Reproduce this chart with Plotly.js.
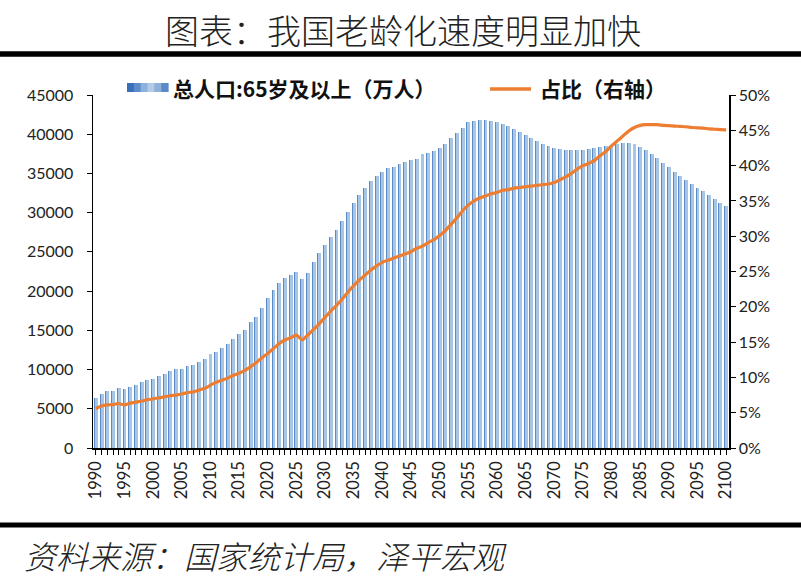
<!DOCTYPE html>
<html>
<head>
<meta charset="utf-8">
<script src="https://cdn.plot.ly/plotly-3.0.1.min.js"></script>
<style>
  html, body { margin: 0; padding: 0; background: #fff; }
  #chart { width: 801px; height: 582px; }
</style>
</head>
<body>
<div id="chart"></div>
<script>
// 65岁及以上人口（万人），1990-2100
const pop65 = [
  6370, 6920, 7260, 7310, 7650, 7520, 7830, 8050, 8410, 8690,
  8810, 9140, 9420, 9800, 10080, 10110, 10460, 10620, 11020, 11350,
  11960, 12300, 12810, 13280, 13930, 14540, 15070, 16000, 16760, 17860,
  19100, 20150, 21010, 21650, 22030, 22400, 21560, 22330, 23770, 24830,
  25890, 26950, 27800, 28990, 30090, 31240, 32220, 33150, 34040, 34720,
  35190, 35660, 35870, 36170, 36460, 36720, 36880, 37440, 37650, 37900,
  38200, 38730, 39480, 40120, 40750, 41520, 41720, 41770, 41770, 41680,
  41520, 41300, 41010, 40660, 40240, 39900, 39480, 39180, 38720, 38460,
  38280, 38080, 37990, 37990, 37990, 37990, 38080, 38280, 38370, 38500,
  38630, 38790, 38920, 38840, 38720, 38410, 37990, 37480, 36930, 36370,
  35780, 35230, 34720, 34210, 33700, 33190, 32730, 32220, 31710, 31280,
  30860
];

// 占比（%）
const share = [
  5.6, 5.95, 6.1, 6.15, 6.3, 6.1, 6.35, 6.5, 6.65, 6.85,
  6.95, 7.1, 7.25, 7.4, 7.5, 7.65, 7.85, 7.95, 8.2, 8.45,
  8.9, 9.3, 9.6, 9.9, 10.3, 10.6, 11.0, 11.5, 12.1, 12.8,
  13.4, 14.1, 14.8, 15.3, 15.6, 16.0, 15.3, 16.0, 16.8, 17.6,
  18.5, 19.4, 20.2, 21.1, 22.1, 23.0, 23.8, 24.5, 25.2, 25.8,
  26.3, 26.6, 26.9, 27.2, 27.5, 27.8, 28.3, 28.6, 29.1, 29.5,
  30.1, 30.8, 31.7, 32.6, 33.6, 34.4, 35.0, 35.4, 35.7, 36.0,
  36.2, 36.5, 36.6, 36.8, 36.9, 37.0, 37.1, 37.2, 37.3, 37.4,
  37.6, 38.0, 38.4, 38.9, 39.5, 40.0, 40.3, 40.7, 41.4, 42.0,
  42.8, 43.5, 44.2, 44.9, 45.4, 45.7, 45.8, 45.8, 45.8, 45.7,
  45.65, 45.6, 45.55, 45.5, 45.4, 45.35, 45.3, 45.2, 45.15, 45.1,
  45.05
];

const years = [];
for (let i = 0; i < pop65.length; ++i) {
  years.push(1990 + i);
}

const titleText = '图表：我国老龄化速度明显加快';
const barName = '总人口:65岁及以上（万人）';
const lineName = '占比（右轴）';
const sourceText = '资料来源：国家统计局，泽平宏观';

const tickFont = { family: 'Lato, "Open Sans", sans-serif', size: 16, color: '#222' };
const cjk = '"Noto Sans CJK SC", sans-serif';

// bars: light body with a thin darker left edge (like the excel gradient)
const barBody = {
  x: years,
  y: pop65,
  type: 'bar',
  width: 0.68,
  offset: -0.34,
  marker: { color: '#a7c5e4', line: { width: 0 } },
  hoverinfo: 'skip',
  showlegend: false
};

const barEdge = {
  x: years,
  y: pop65,
  type: 'bar',
  width: 0.17,
  offset: -0.34,
  marker: { color: '#5a8bc7', line: { width: 0 } },
  hoverinfo: 'skip',
  showlegend: false
};

const shareLine = {
  x: years,
  y: share,
  yaxis: 'y2',
  type: 'scatter',
  mode: 'lines',
  line: { color: '#ed7d31', width: 3.2, shape: 'spline', smoothing: 0.5 },
  showlegend: false
};

// legend drawn by hand
const legendX0 = (127 - 93) / 636;
const legendX1 = (168 - 93) / 636;
const legendColors = ['#3a6eb6', '#5c8ccb', '#8eb1dc', '#b3cbe6', '#8fb0da', '#5a89c8'];
const shapes = [];
for (let i = 0; i < legendColors.length; ++i) {
  const w = (legendX1 - legendX0) / legendColors.length;
  shapes.push({
    type: 'rect', xref: 'paper', yref: 'paper',
    x0: legendX0 + i * w, x1: legendX0 + (i + 1) * w + 0.001,
    y0: (448 - 92) / 353, y1: (448 - 83) / 353,
    fillcolor: legendColors[i], line: { width: 0 }
  });
}
shapes.push({
  type: 'line', xref: 'paper', yref: 'paper',
  x0: (490 - 93) / 636, x1: (531 - 93) / 636,
  y0: (448 - 89) / 353, y1: (448 - 89) / 353,
  line: { color: '#ed7d31', width: 3.5 }
});
// heavy rules above and below
shapes.push({
  type: 'line', xref: 'paper', yref: 'paper',
  x0: -93 / 636, x1: 708 / 636,
  y0: (448 - 54) / 353, y1: (448 - 54) / 353,
  line: { color: '#000', width: 5.5 }
});
shapes.push({
  type: 'line', xref: 'paper', yref: 'paper',
  x0: -93 / 636, x1: 708 / 636,
  y0: (448 - 525) / 353, y1: (448 - 525) / 353,
  line: { color: '#000', width: 5 }
});

const annotations = [
  {
    text: barName, xref: 'paper', yref: 'paper',
    x: (171 - 93) / 636, y: (448 - 88) / 353,
    xanchor: 'left', yanchor: 'middle', showarrow: false,
    font: { family: cjk, size: 21, color: '#111', weight: 700 }
  },
  {
    text: lineName, xref: 'paper', yref: 'paper',
    x: (538 - 93) / 636, y: (448 - 88) / 353,
    xanchor: 'left', yanchor: 'middle', showarrow: false,
    font: { family: cjk, size: 21, color: '#111', weight: 700 }
  },
  {
    text: sourceText, xref: 'paper', yref: 'paper',
    x: (22 - 93) / 636, y: (448 - 555) / 353,
    xanchor: 'left', yanchor: 'middle', showarrow: false,
    font: { family: cjk, size: 32, color: '#222', style: 'italic', weight: 300 }
  }
];

const layout = {
  width: 801,
  height: 582,
  margin: { l: 93, r: 72, t: 95, b: 134 },
  paper_bgcolor: '#fff',
  plot_bgcolor: '#fff',
  barmode: 'overlay',
  bargap: 0,
  showlegend: false,
  title: {
    text: titleText,
    x: 403 / 801, xanchor: 'center',
    y: 1 - 32 / 582, yanchor: 'middle',
    font: { family: cjk, size: 34, color: '#222', weight: 300 }
  },
  xaxis: {
    type: 'linear',
    range: [1989.5, 2100.5],
    tickmode: 'linear', tick0: 1990, dtick: 5,
    tickangle: -90,
    ticks: 'outside', ticklen: 5, tickcolor: '#000', tickwidth: 1,
    minor: { dtick: 1, ticks: 'outside', ticklen: 5, tickcolor: '#000', tickwidth: 1 },
    showline: true, linecolor: '#000', linewidth: 1.5,
    showgrid: false, zeroline: false,
    tickfont: { family: tickFont.family, size: 16.5, color: '#222' }
  },
  yaxis: {
    range: [0, 45000],
    tickmode: 'linear', tick0: 0, dtick: 5000,
    tickformat: 'd',
    ticks: 'outside', ticklen: 5, tickcolor: '#000',
    showline: true, linecolor: '#000', linewidth: 1.5,
    showgrid: false, zeroline: false,
    tickfont: tickFont,
    ticklabelstandoff: 10
  },
  yaxis2: {
    overlaying: 'y',
    side: 'right',
    range: [0, 50],
    tickmode: 'linear', tick0: 0, dtick: 5,
    ticksuffix: '%',
    ticks: 'outside', ticklen: 5, tickcolor: '#000',
    showline: true, linecolor: '#000', linewidth: 1.5,
    showgrid: false, zeroline: false,
    tickfont: tickFont
  },
  shapes,
  annotations
};

Plotly.newPlot('chart', [barBody, barEdge, shareLine], layout, { displayModeBar: false, staticPlot: true });
</script>
</body>
</html>
